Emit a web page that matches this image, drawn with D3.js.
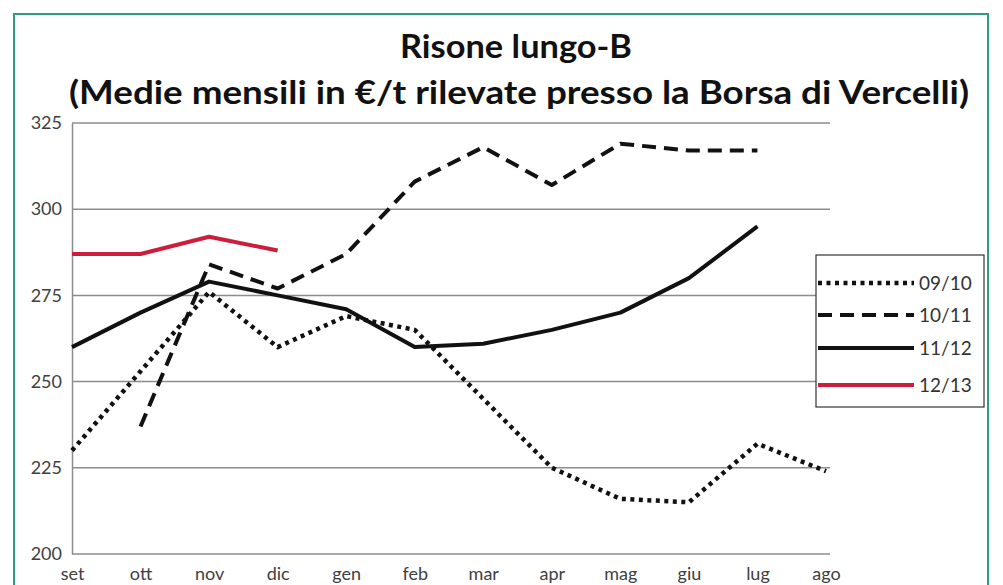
<!DOCTYPE html>
<html>
<head>
<meta charset="utf-8">
<script src="https://cdn.jsdelivr.net/npm/d3@7"></script>
<style>
  body { margin: 0; background: #fff; }
  text { font-family: Lato, "Open Sans", sans-serif; }
</style>
</head>
<body>
<div id="vis-container"></div>
<script>
// months of the marketing year (set -> ago)
var months = ["set", "ott", "nov", "dic", "gen", "feb", "mar", "apr", "mag", "giu", "lug", "ago"];
var yTicks = [200, 225, 250, 275, 300, 325];

// monthly averages in euro/t, null where the campaign has no value
var s0910 = [230, 253, 276, 260, 269, 265, 245, 225, 216, 215, 232, 224];
var s1011 = [null, 237, 284, 277, 287, 308, 318, 307, 319, 317, 317, null];
var s1112 = [260, 270, 279, 275, 271, 260, 261, 265, 270, 280, 295, null];
var s1213 = [287, 287, 292, 288, null, null, null, null, null, null, null, null];

var seriesNames = ["09/10", "10/11", "11/12", "12/13"];

var width = 1003;
var height = 585;

var svg = d3.select("#vis-container").append("svg")
    .attr("width", width)
    .attr("height", height);

// outer teal frame
svg.append("rect")
    .attr("x", 14).attr("y", 14)
    .attr("width", 974).attr("height", 600)
    .attr("fill", "#fff")
    .attr("stroke", "#2f9c86")
    .attr("stroke-width", 2);

// title
svg.append("text")
    .attr("x", 516).attr("y", 58)
    .attr("text-anchor", "middle")
    .attr("font-size", 33).attr("font-weight", 700)
    .attr("fill", "#111")
    .attr("textLength", 232)
    .attr("lengthAdjust", "spacingAndGlyphs")
    .text("Risone lungo-B");

svg.append("text")
    .attr("x", 519).attr("y", 104)
    .attr("text-anchor", "middle")
    .attr("font-size", 33).attr("font-weight", 700)
    .attr("fill", "#111")
    .attr("textLength", 900)
    .attr("lengthAdjust", "spacingAndGlyphs")
    .text("(Medie mensili in €/t rilevate presso la Borsa di Vercelli)");

var plotLeft = 72, plotRight = 830, plotTop = 123, plotBottom = 554;

var xScale = d3.scalePoint().domain(months).range([plotLeft, 826]);
var yScale = d3.scaleLinear().domain([200, 325]).range([plotBottom, plotTop]);

// gridlines
svg.append("g").selectAll("line")
    .data(yTicks.slice(1)).enter()
    .append("line")
    .attr("x1", plotLeft).attr("x2", plotRight)
    .attr("y1", d => yScale(d)).attr("y2", d => yScale(d))
    .attr("stroke", "#8c8c8c")
    .attr("stroke-width", 1.5);

// y axis
var yAxis = svg.append("g")
    .attr("transform", "translate(" + plotLeft + ",0)")
    .call(d3.axisLeft(yScale).tickValues(yTicks).tickSize(0).tickPadding(10));
yAxis.select(".domain").attr("stroke", "#8c8c8c").attr("stroke-width", 1.5);
yAxis.selectAll("text")
    .attr("font-size", 18).attr("fill", "#404040")
    .style("font-family", "Lato, sans-serif");

// x axis
var xAxis = svg.append("g")
    .attr("transform", "translate(0," + plotBottom + ")")
    .call(d3.axisBottom(xScale).tickSize(0).tickPadding(13));
xAxis.select(".domain")
    .attr("d", "M" + plotLeft + ",0H" + plotRight)
    .attr("stroke", "#8c8c8c").attr("stroke-width", 1.5);
xAxis.selectAll("text")
    .attr("font-size", 18).attr("fill", "#404040")
    .style("font-family", "Lato, sans-serif");

// series styles
var styles = [
    { data: s0910, color: "#111", width: 4.5, dash: "4,4.5" },
    { data: s1011, color: "#111", width: 4, dash: "14,8" },
    { data: s1112, color: "#111", width: 4, dash: null },
    { data: s1213, color: "#cc1d3c", width: 4, dash: null }
];

var lineGen = d3.line()
    .defined(d => d.v !== null)
    .x(d => xScale(d.m))
    .y(d => yScale(d.v));

var lines = svg.append("g");
styles.forEach(s => {
    var pts = months.map((m, i) => ({ m: m, v: s.data[i] }));
    lines.append("path")
        .attr("d", lineGen(pts))
        .attr("fill", "none")
        .attr("stroke", s.color)
        .attr("stroke-width", s.width)
        .attr("stroke-dasharray", s.dash)
        .attr("stroke-linejoin", "round");
});

// legend
var legend = svg.append("g");
legend.append("rect")
    .attr("x", 816).attr("y", 255)
    .attr("width", 168).attr("height", 152)
    .attr("fill", "#fff")
    .attr("stroke", "#333")
    .attr("stroke-width", 1.2);

var legendY = [283, 315, 348, 385];
styles.forEach((s, i) => {
    legend.append("line")
        .attr("x1", 818).attr("x2", 914)
        .attr("y1", legendY[i]).attr("y2", legendY[i])
        .attr("stroke", s.color)
        .attr("stroke-width", s.width)
        .attr("stroke-dasharray", s.dash);
    legend.append("text")
        .attr("x", 919).attr("y", legendY[i])
        .attr("dy", "0.35em")
        .attr("font-size", 19).attr("fill", "#333")
        .text(seriesNames[i]);
});
</script>
</body>
</html>
